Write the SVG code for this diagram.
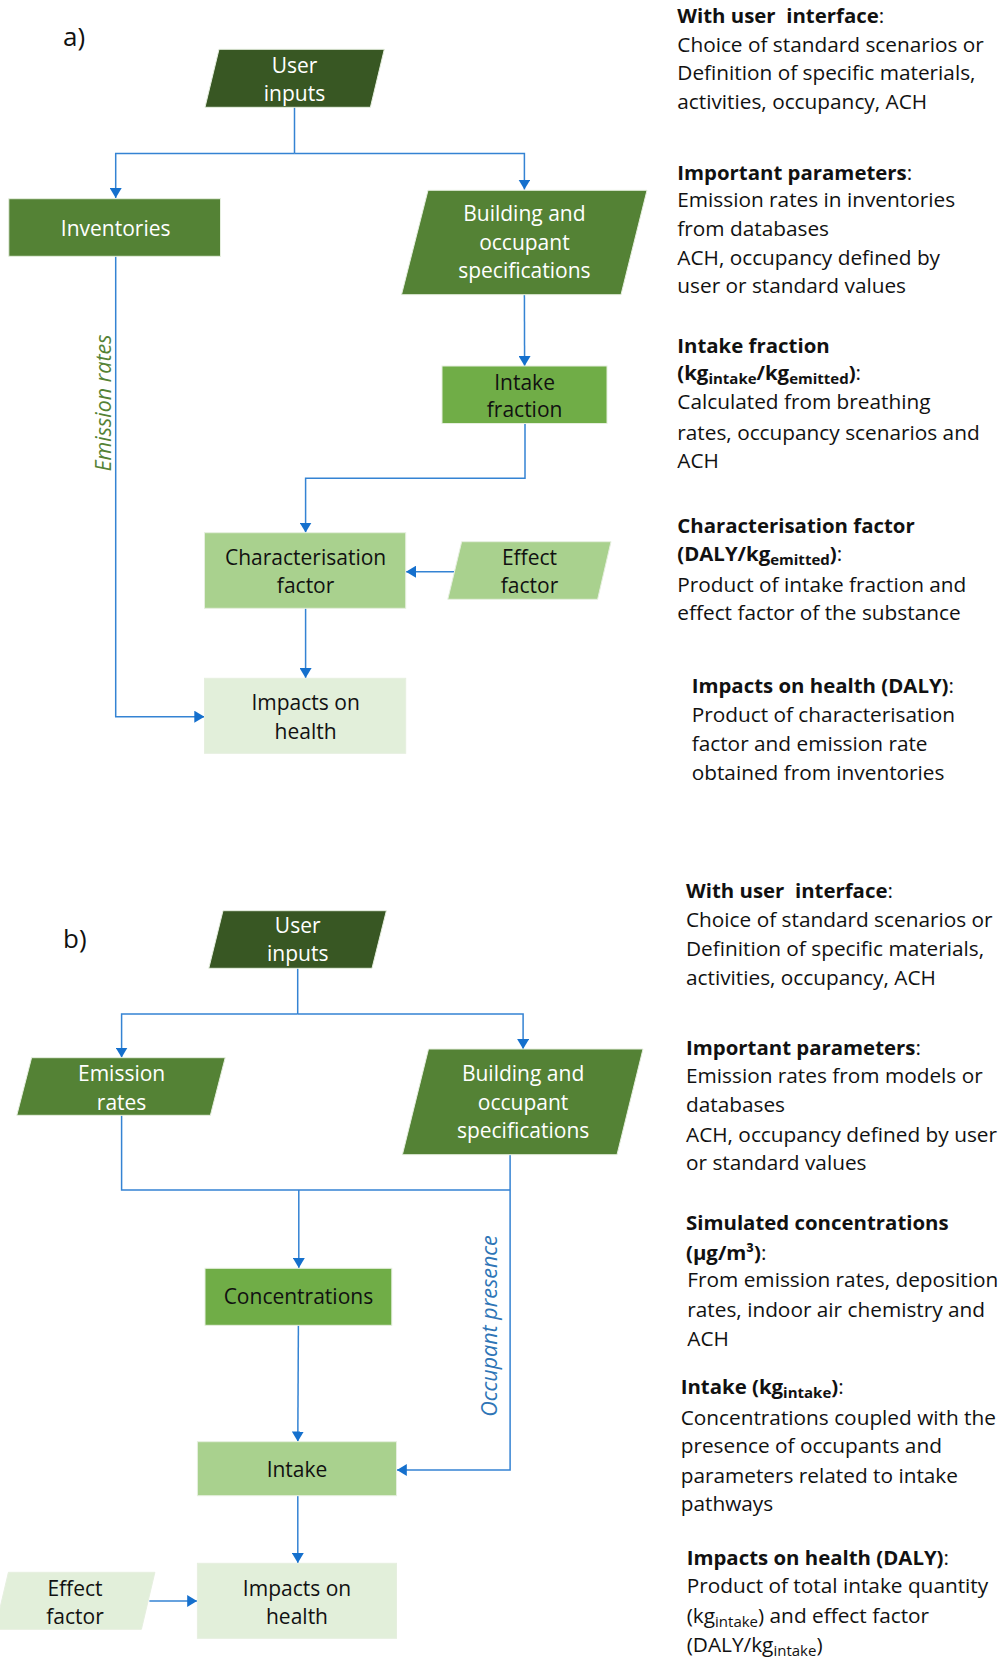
<svg xmlns="http://www.w3.org/2000/svg" width="1004" height="1660" viewBox="0 0 1004 1660">
<defs>
<marker id="arr" viewBox="0 0 10 12" refX="10" refY="6" markerWidth="10" markerHeight="12" markerUnits="userSpaceOnUse" orient="auto">
<path d="M0,0 L10,6 L0,12 z" fill="#1570CD"/>
</marker>
<style>
.nd{stroke:#E6EFDF;stroke-width:1}
.d1{fill:#385723}
.d2{fill:#548235}
.d3{fill:#70AD47}
.d4{fill:#A9D18E}
.d5{fill:#E2EFDA}
.nt{font-family:"Open Sans","Liberation Sans",sans-serif;font-size:21px;text-anchor:middle}
.w{fill:#ffffff}
.k{fill:#111111}
.ln{fill:none;stroke:#3483D3;stroke-width:1.5}
.la{fill:none;stroke:#3483D3;stroke-width:1.5;marker-end:url(#arr)}
.lab{font-family:"Open Sans","Liberation Sans",sans-serif;font-size:21.5px;font-style:italic;text-anchor:middle}
.rt{font-family:"Open Sans","Liberation Sans",sans-serif;font-size:20.8px;fill:#111111}
.b{font-weight:bold;font-size:20.4px}
.pre{white-space:pre}
.pl{font-size:26px;font-family:"Open Sans","Liberation Sans",sans-serif;fill:#111111}
</style>
</defs>

<text class="pl" x="63" y="46">a)</text>
<text class="pl" x="63" y="948">b)</text>

<g id="connectors">
<polyline class="ln" points="294.5,107 294.5,153.5"/>
<polyline class="la" points="294.5,153.5 115.7,153.5 115.7,198"/>
<polyline class="la" points="294.5,153.5 524.4,153.5 524.4,189.5"/>
<polyline class="la" points="524.4,295 524.6,366"/>
<polyline class="la" points="525,423.5 525,478.3 305.6,478.3 305.6,532.5"/>
<polyline class="la" points="454.5,571.7 406,571.7"/>
<polyline class="la" points="305.6,608.3 305.6,678"/>
<polyline class="la" points="115.7,256.3 115.7,716.7 204.3,716.7"/>
<polyline class="ln" points="297.7,968 297.7,1014"/>
<polyline class="la" points="297.7,1014 121.6,1014 121.6,1057.5"/>
<polyline class="la" points="297.7,1014 523.1,1014 523.1,1049"/>
<polyline class="ln" points="121.6,1115.3 121.6,1190 510.1,1190"/>
<polyline class="la" points="510.1,1154.7 510.1,1470 396.8,1470"/>
<polyline class="la" points="298.8,1190 298.8,1268"/>
<polyline class="la" points="298.4,1325.3 297.8,1441.5"/>
<polyline class="la" points="297.8,1495.7 297.8,1563"/>
<polyline class="la" points="149.4,1601 197.2,1601"/>
<text class="lab" fill="#548235" transform="translate(111,403) rotate(-90)">Emission rates</text>
<text class="lab" fill="#2E75B6" transform="translate(497,1326) rotate(-90)">Occupant presence</text>
</g>

<g id="a-user-inputs">
<polygon class="nd d1" points="219,49.3 384.3,49.3 370.4,107.3 205,107.3"/>
<text class="nt w" x="294.5" y="73">User</text>
<text class="nt w" x="294.5" y="101">inputs</text>
</g>
<g id="a-inventories">
<rect class="nd d2" x="8.8" y="198.7" width="211.7" height="57.6"/>
<text class="nt w" x="115.7" y="236">Inventories</text>
</g>
<g id="a-building">
<polygon class="nd d2" points="428,190.3 647,190.3 621,294.7 401.5,294.7"/>
<text class="nt w" x="524.4" y="221">Building and</text>
<text class="nt w" x="524.4" y="249.5">occupant</text>
<text class="nt w" x="524.4" y="277.5">specifications</text>
</g>
<g id="a-intake-fraction">
<rect class="nd d3" x="442" y="366" width="165" height="57.5"/>
<text class="nt k" x="524.6" y="389.5">Intake</text>
<text class="nt k" x="524.6" y="417">fraction</text>
</g>
<g id="a-characterisation">
<rect class="nd d4" x="204.5" y="532.7" width="201.2" height="75.6"/>
<text class="nt k" x="305.6" y="564.5">Characterisation</text>
<text class="nt k" x="305.6" y="592.5">factor</text>
</g>
<g id="a-effect-factor">
<polygon class="nd d4" points="461.7,541.7 611,541.7 597.6,599.3 447.8,599.3"/>
<text class="nt k" x="529.5" y="564.5">Effect</text>
<text class="nt k" x="529.5" y="592.5">factor</text>
</g>
<g id="a-impacts">
<rect class="nd d5" x="204.5" y="678.3" width="201.2" height="75"/>
<text class="nt k" x="305.6" y="710">Impacts on</text>
<text class="nt k" x="305.6" y="738.5">health</text>
</g>

<g id="b-user-inputs">
<polygon class="nd d1" points="223,910.7 386.4,910.7 372,968.3 208.8,968.3"/>
<text class="nt w" x="297.7" y="933">User</text>
<text class="nt w" x="297.7" y="961">inputs</text>
</g>
<g id="b-emission-rates">
<polygon class="nd d2" points="31.6,1057.7 225.2,1057.7 210.4,1115.3 16.8,1115.3"/>
<text class="nt w" x="121.6" y="1081">Emission</text>
<text class="nt w" x="121.6" y="1110">rates</text>
</g>
<g id="b-building">
<polygon class="nd d2" points="428.5,1049 643,1049 617,1154.7 402.4,1154.7"/>
<text class="nt w" x="523.1" y="1081">Building and</text>
<text class="nt w" x="523.1" y="1109.5">occupant</text>
<text class="nt w" x="523.1" y="1137.5">specifications</text>
</g>
<g id="b-concentrations">
<rect class="nd d3" x="205" y="1268.3" width="186.8" height="57"/>
<text class="nt k" x="298.4" y="1304">Concentrations</text>
</g>
<g id="b-intake">
<rect class="nd d4" x="197.4" y="1441.7" width="199.1" height="54"/>
<text class="nt k" x="297" y="1477">Intake</text>
</g>
<g id="b-impacts">
<rect class="nd d5" x="197.4" y="1563.3" width="199.1" height="75"/>
<text class="nt k" x="297" y="1596">Impacts on</text>
<text class="nt k" x="297" y="1623.5">health</text>
</g>
<g id="b-effect-factor">
<polygon class="nd d5" points="8.4,1572.3 154.9,1572.3 141.4,1629.3 -5,1629.3"/>
<text class="nt k" x="75" y="1595.5">Effect</text>
<text class="nt k" x="75" y="1623.5">factor</text>
</g>

<g id="notes-a">
<text class="rt" x="677.3" y="23"><tspan class="b pre">With user  interface</tspan>:</text>
<text class="rt" x="677.3" y="51.7">Choice of standard scenarios or</text>
<text class="rt" x="677.3" y="80">Definition of specific materials,</text>
<text class="rt" x="677.3" y="109.3">activities, occupancy, ACH</text>
<text class="rt" x="677.3" y="180"><tspan class="b">Important parameters</tspan>:</text>
<text class="rt" x="677.3" y="207.3">Emission rates in inventories</text>
<text class="rt" x="677.3" y="235.7">from databases</text>
<text class="rt" x="677.3" y="265">ACH, occupancy defined by</text>
<text class="rt" x="677.3" y="293.3">user or standard values</text>
<text class="rt b" x="677.3" y="353.3">Intake fraction</text>
<text class="rt" x="677.3" y="380"><tspan class="b">(kg<tspan font-size="15" dy="4">intake</tspan><tspan dy="-4">/kg</tspan><tspan font-size="15" dy="4">emitted</tspan><tspan dy="-4">)</tspan></tspan>:</text>
<text class="rt" x="677.3" y="409">Calculated from breathing</text>
<text class="rt" x="677.3" y="440">rates, occupancy scenarios and</text>
<text class="rt" x="677.3" y="468.3">ACH</text>
<text class="rt b" x="677.3" y="533.3">Characterisation factor</text>
<text class="rt" x="677.3" y="561"><tspan class="b">(DALY/kg<tspan font-size="15" dy="4">emitted</tspan><tspan dy="-4">)</tspan></tspan>:</text>
<text class="rt" x="677.3" y="591.7">Product of intake fraction and</text>
<text class="rt" x="677.3" y="620">effect factor of the substance</text>
<text class="rt" x="691.7" y="693.3"><tspan class="b">Impacts on health (DALY)</tspan>:</text>
<text class="rt" x="691.7" y="721.7">Product of characterisation</text>
<text class="rt" x="691.7" y="750.7">factor and emission rate</text>
<text class="rt" x="691.7" y="780">obtained from inventories</text>
</g>

<g id="notes-b">
<text class="rt" x="686" y="898.3"><tspan class="b pre">With user  interface</tspan>:</text>
<text class="rt" x="686" y="926.7">Choice of standard scenarios or</text>
<text class="rt" x="686" y="956">Definition of specific materials,</text>
<text class="rt" x="686" y="985">activities, occupancy, ACH</text>
<text class="rt" x="686" y="1055"><tspan class="b">Important parameters</tspan>:</text>
<text class="rt" x="686" y="1083.3">Emission rates from models or</text>
<text class="rt" x="686" y="1111.7">databases</text>
<text class="rt" x="686" y="1141.7">ACH, occupancy defined by user</text>
<text class="rt" x="686" y="1170">or standard values</text>
<text class="rt b" x="686" y="1230">Simulated concentrations</text>
<text class="rt" x="686" y="1260"><tspan class="b">(µg/m³)</tspan>:</text>
<text class="rt" x="687.3" y="1286.7">From emission rates, deposition</text>
<text class="rt" x="687.3" y="1316.7">rates, indoor air chemistry and</text>
<text class="rt" x="687.3" y="1346">ACH</text>
<text class="rt" x="680.7" y="1394"><tspan class="b">Intake (kg<tspan font-size="15" dy="4">intake</tspan><tspan dy="-4">)</tspan></tspan>:</text>
<text class="rt" x="680.7" y="1425">Concentrations coupled with the</text>
<text class="rt" x="680.7" y="1453.3">presence of occupants and</text>
<text class="rt" x="680.7" y="1482.7">parameters related to intake</text>
<text class="rt" x="680.7" y="1510.7">pathways</text>
<text class="rt" x="686.7" y="1565"><tspan class="b">Impacts on health (DALY)</tspan>:</text>
<text class="rt" x="686.7" y="1593.3">Product of total intake quantity</text>
<text class="rt" x="686.7" y="1623.3">(kg<tspan font-size="15" dy="4">intake</tspan><tspan dy="-4">) and effect factor</tspan></text>
<text class="rt" x="686.7" y="1651.7">(DALY/kg<tspan font-size="15" dy="4">intake</tspan><tspan dy="-4">)</tspan></text>
</g>
</svg>
